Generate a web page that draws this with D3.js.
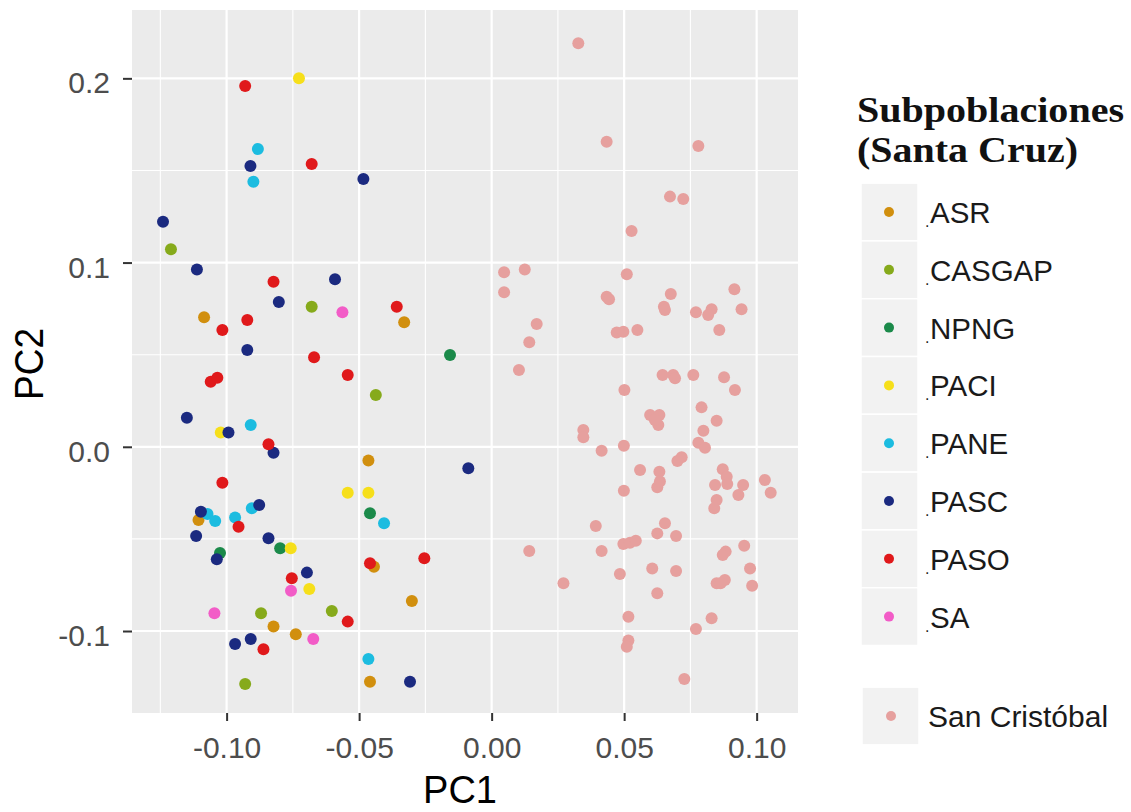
<!DOCTYPE html>
<html>
<head>
<meta charset="utf-8">
<script src="https://cdn.jsdelivr.net/npm/d3@7"></script>
<style>
  body { margin: 0; background: #ffffff; }
  svg { display: block; }
</style>
</head>
<body>
<svg id="chart" width="1131" height="812"></svg>
<script>
// Santa Cruz subpopulations and their colours
const subpops = ["ASR", "CASGAP", "NPNG", "PACI", "PANE", "PASC", "PASO", "SA"];
const subpopColors = ["#D18F0E", "#86AA1B", "#1B8A4A", "#F6DF1A", "#1CBCE0", "#1B2A80", "#E0191B", "#F25CC7"];
const sanCristobalColor = "#E6A09E";

// PCA scores [PC1, PC2] per subpopulation
const ASR = [[-0.1085, 0.0703], [-0.0330, 0.0676], [-0.0465, -0.0075], [-0.1106, -0.0397], [-0.0444, -0.0651],
  [-0.0301, -0.0837], [-0.0823, -0.0976], [-0.0739, -0.1018], [-0.0459, -0.1275]];
const CASGAP = [[-0.1210, 0.1072], [-0.0679, 0.0760], [-0.0437, 0.0281], [-0.0870, -0.0904], [-0.0603, -0.0891],
  [-0.0930, -0.1288]];
const NPNG = [[-0.0157, 0.0498], [-0.0459, -0.0361], [-0.0798, -0.0551], [-0.1025, -0.0577]];
const PACI = [[-0.0727, 0.2000], [-0.1022, 0.0077], [-0.0543, -0.0249], [-0.0465, -0.0249], [-0.0758, -0.0551],
  [-0.0688, -0.0772]];
const PANE = [[-0.0882, 0.1616], [-0.0899, 0.1439], [-0.0909, 0.0118], [-0.1072, -0.0365], [-0.1043, -0.0403],
  [-0.0968, -0.0384], [-0.0905, -0.0334], [-0.0406, -0.0415], [-0.0465, -0.1152]];
const PASC = [[-0.0910, 0.1524], [-0.0484, 0.1454], [-0.1240, 0.1222], [-0.1112, 0.0963], [-0.0591, 0.0909],
  [-0.0803, 0.0786], [-0.0922, 0.0525], [-0.1150, 0.0158], [-0.0993, 0.0077], [-0.0823, -0.0032],
  [-0.0088, -0.0117], [-0.1097, -0.0352], [-0.0877, -0.0316], [-0.1115, -0.0484], [-0.0842, -0.0497],
  [-0.1037, -0.0611], [-0.0697, -0.0683], [-0.0968, -0.1070], [-0.0909, -0.1043], [-0.0308, -0.1275]];
const PASO = [[-0.0930, 0.1958], [-0.0679, 0.1535], [-0.0823, 0.0896], [-0.0358, 0.0760], [-0.1016, 0.0634],
  [-0.0922, 0.0688], [-0.0670, 0.0486], [-0.0543, 0.0390], [-0.1060, 0.0353], [-0.1035, 0.0375],
  [-0.0842, 0.0014], [-0.1016, -0.0195], [-0.0955, -0.0434], [-0.0254, -0.0605], [-0.0459, -0.0632],
  [-0.0754, -0.0714], [-0.0543, -0.0949], [-0.0861, -0.1099]];
const SA = [[-0.0563, 0.0730], [-0.0757, -0.0781], [-0.1046, -0.0904], [-0.0673, -0.1043]];

// San Cristóbal individuals [PC1, PC2]
const sanCristobal = [[0.0327, 0.2190], [0.0434, 0.1656], [0.0780, 0.1633], [0.0673, 0.1358], [0.0723, 0.1345],
  [0.0528, 0.1171], [0.0047, 0.0947], [0.0125, 0.0963], [0.0047, 0.0839], [0.0510, 0.0936],
  [0.0434, 0.0815], [0.0443, 0.0801], [0.0676, 0.0829], [0.0650, 0.0760], [0.0654, 0.0743],
  [0.0916, 0.0855], [0.0943, 0.0746], [0.0771, 0.0730], [0.0830, 0.0746], [0.0817, 0.0715],
  [0.0859, 0.0634], [0.0170, 0.0667], [0.0142, 0.0567], [0.0103, 0.0417], [0.0472, 0.0621],
  [0.0497, 0.0625], [0.0550, 0.0634], [0.0645, 0.0390], [0.0685, 0.0390], [0.0692, 0.0372],
  [0.0761, 0.0390], [0.0877, 0.0377], [0.0918, 0.0308], [0.0501, 0.0308], [0.0792, 0.0214],
  [0.0849, 0.0142], [0.0598, 0.0173], [0.0633, 0.0173], [0.0629, 0.0118], [0.0616, 0.0146],
  [0.0346, 0.0091], [0.0346, 0.0052], [0.0799, 0.0087], [0.0780, 0.0022], [0.0805, -0.0005],
  [0.0415, -0.0021], [0.0499, 0.0006], [0.0701, -0.0077], [0.0717, -0.0057], [0.0560, -0.0126],
  [0.0633, -0.0135], [0.0625, -0.0220], [0.0635, -0.0189], [0.0872, -0.0122], [0.0887, -0.0162],
  [0.0889, -0.0202], [0.0843, -0.0207], [0.0949, -0.0207], [0.0931, -0.0262], [0.1031, -0.0180],
  [0.1053, -0.0249], [0.0499, -0.0238], [0.0849, -0.0289], [0.0840, -0.0334], [0.0393, -0.0430],
  [0.0654, -0.0415], [0.0625, -0.0470], [0.0696, -0.0484], [0.0497, -0.0528], [0.0522, -0.0521],
  [0.0544, -0.0510], [0.0142, -0.0566], [0.0415, -0.0566], [0.0883, -0.0569], [0.0872, -0.0587],
  [0.0953, -0.0537], [0.0484, -0.0690], [0.0606, -0.0660], [0.0696, -0.0674], [0.0975, -0.0660],
  [0.0271, -0.0741], [0.0849, -0.0741], [0.0880, -0.0723], [0.0864, -0.0741], [0.0983, -0.0754],
  [0.0625, -0.0795], [0.0516, -0.0922], [0.0830, -0.0931], [0.0771, -0.0989], [0.0516, -0.1052],
  [0.0510, -0.1085], [0.0727, -0.1260]];

// Axis breaks
const xTicks = [-0.10, -0.05, 0.00, 0.05, 0.10];
const xMinorTicks = [-0.125, -0.075, -0.025, 0.025, 0.075];
const yTicks = [-0.1, 0.0, 0.1, 0.2];
const yMinorTicks = [-0.05, 0.05, 0.15];
const xDomain = [-0.1357, 0.1156];
const yDomain = [-0.1445, 0.2371];

const subpopData = [ASR, CASGAP, NPNG, PACI, PANE, PASC, PASO, SA];

const svg = d3.select("#chart");
const panel = { left: 132, right: 798, top: 10, bottom: 713 };

const x = d3.scaleLinear().domain(xDomain).range([panel.left, panel.right]);
const y = d3.scaleLinear().domain(yDomain).range([panel.bottom, panel.top]);
const color = d3.scaleOrdinal().domain(subpops).range(subpopColors);

const sansFont = "'Liberation Sans', Arial, sans-serif";

// panel background
svg.append("rect")
  .attr("x", panel.left).attr("y", panel.top)
  .attr("width", panel.right - panel.left).attr("height", panel.bottom - panel.top)
  .attr("fill", "#EBEBEB");

const grid = svg.append("g");
// minor grid
grid.selectAll(".vminor").data(xMinorTicks).join("line")
  .attr("x1", d => x(d)).attr("x2", d => x(d))
  .attr("y1", panel.top).attr("y2", panel.bottom)
  .attr("stroke", "#fff").attr("stroke-width", 1.1);
grid.selectAll(".hminor").data(yMinorTicks).join("line")
  .attr("y1", d => y(d)).attr("y2", d => y(d))
  .attr("x1", panel.left).attr("x2", panel.right)
  .attr("stroke", "#fff").attr("stroke-width", 1.1);
// major grid
grid.selectAll(".vmajor").data(xTicks).join("line")
  .attr("x1", d => x(d)).attr("x2", d => x(d))
  .attr("y1", panel.top).attr("y2", panel.bottom)
  .attr("stroke", "#fff").attr("stroke-width", 2.2);
grid.selectAll(".hmajor").data(yTicks).join("line")
  .attr("y1", d => y(d)).attr("y2", d => y(d))
  .attr("x1", panel.left).attr("x2", panel.right)
  .attr("stroke", "#fff").attr("stroke-width", 2.2);

// points
const points = [];
subpops.forEach((name, i) => subpopData[i].forEach(p => points.push({ pc1: p[0], pc2: p[1], group: name })));
sanCristobal.forEach(p => points.push({ pc1: p[0], pc2: p[1], group: "San Cristóbal" }));

svg.append("g").selectAll("circle").data(points).join("circle")
  .attr("cx", d => x(d.pc1))
  .attr("cy", d => y(d.pc2))
  .attr("r", 6)
  .attr("fill", d => d.group === "San Cristóbal" ? sanCristobalColor : color(d.group));

// axes
const hyphen = f => d => f(d).replace("\u2212", "-");
const xAxis = svg.append("g")
  .attr("transform", `translate(0,${panel.bottom})`)
  .call(d3.axisBottom(x).tickValues(xTicks).tickFormat(hyphen(d3.format(".2f"))).tickSize(8).tickPadding(0));
const yAxis = svg.append("g")
  .attr("transform", `translate(${panel.left},0)`)
  .call(d3.axisLeft(y).tickValues(yTicks).tickFormat(hyphen(d3.format(".1f"))).tickSize(9).tickPadding(0));

[xAxis, yAxis].forEach(a => {
  a.select(".domain").remove();
  a.selectAll(".tick line").attr("stroke", "#333333").attr("stroke-width", 2);
  a.selectAll(".tick text")
    .attr("fill", "#4D4D4D")
    .style("font-family", sansFont)
    .style("font-size", "30px");
});
xAxis.selectAll(".tick text").attr("y", 45).attr("dy", null);
yAxis.selectAll(".tick text").attr("x", -22).attr("dy", "14.5px");

// axis titles
svg.append("text")
  .attr("x", 460).attr("y", 803)
  .attr("text-anchor", "middle")
  .style("font-family", sansFont).style("font-size", "38px")
  .attr("fill", "#000")
  .text("PC1");
svg.append("text")
  .attr("transform", "translate(43,364) rotate(-90) scale(1,1.1)")
  .attr("text-anchor", "middle")
  .style("font-family", sansFont).style("font-size", "37px")
  .attr("fill", "#000")
  .text("PC2");

// legend
const legend = svg.append("g");
const serif = "'Liberation Serif', 'Times New Roman', serif";
legend.append("text")
  .attr("x", 857).attr("y", 122)
  .attr("textLength", 267).attr("lengthAdjust", "spacingAndGlyphs")
  .style("font-family", serif).style("font-size", "36px").style("font-weight", "bold")
  .attr("fill", "#111")
  .text("Subpoblaciones");
legend.append("text")
  .attr("x", 857).attr("y", 162)
  .attr("textLength", 221).attr("lengthAdjust", "spacingAndGlyphs")
  .style("font-family", serif).style("font-size", "36px").style("font-weight", "bold")
  .attr("fill", "#111")
  .text("(Santa Cruz)");

const keyTop = 212, keyStep = 57.8, keyW = 57;
const keys = legend.selectAll(".key").data(subpops).join("g")
  .attr("transform", (d, i) => `translate(0,${keyTop + i * keyStep})`);
keys.append("rect")
  .attr("x", 861).attr("y", -keyStep / 2).attr("width", keyW).attr("height", keyStep)
  .attr("fill", "#F2F2F2").attr("stroke", "#fff").attr("stroke-width", 1.5);
keys.append("circle")
  .attr("cx", 889).attr("cy", 0).attr("r", 5)
  .attr("fill", d => color(d));
keys.append("text")
  .attr("x", 925).attr("y", 15)
  .style("font-family", sansFont).style("font-size", "16px")
  .attr("fill", "#222")
  .text(".");
keys.append("text")
  .attr("x", 930).attr("y", 11)
  .style("font-family", sansFont).style("font-size", "29.5px")
  .attr("fill", "#1a1a1a")
  .text(d => d);

const sc = legend.append("g").attr("transform", "translate(0,716)");
sc.append("rect")
  .attr("x", 862).attr("y", -keyStep / 2).attr("width", keyW).attr("height", keyStep)
  .attr("fill", "#F2F2F2").attr("stroke", "#fff").attr("stroke-width", 1.5);
sc.append("circle")
  .attr("cx", 891).attr("cy", 0).attr("r", 5)
  .attr("fill", sanCristobalColor);
sc.append("text")
  .attr("x", 928).attr("y", 11)
  .style("font-family", sansFont).style("font-size", "30px")
  .attr("fill", "#1a1a1a")
  .text("San Cristóbal");
</script>
</body>
</html>
